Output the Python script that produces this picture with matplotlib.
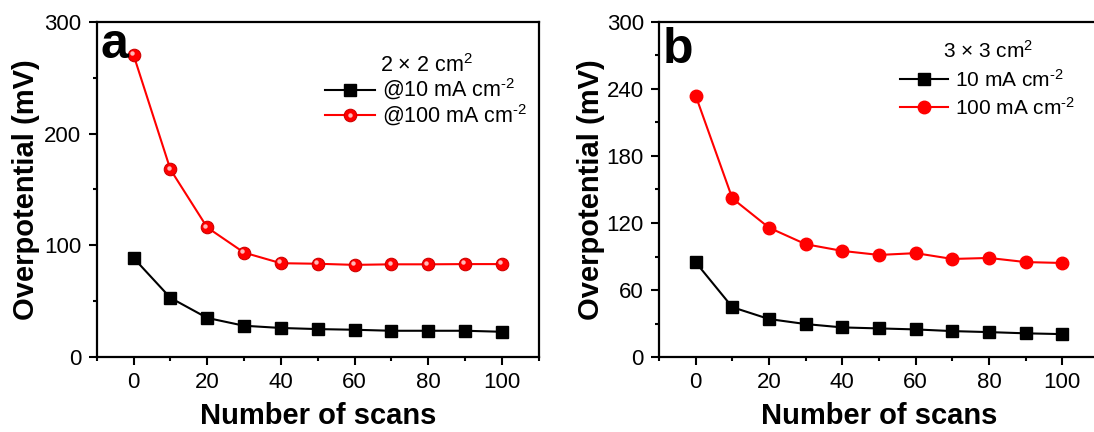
import numpy as np
import matplotlib
matplotlib.use("Agg")
import matplotlib.pyplot as plt
from matplotlib.ticker import MultipleLocator
from matplotlib.transforms import ScaledTranslation
from matplotlib.legend_handler import HandlerTuple

plt.rcParams['font.family'] = ['Liberation Sans', 'DejaVu Sans']
plt.rcParams['mathtext.fontset'] = 'custom'
plt.rcParams['mathtext.rm'] = 'Liberation Sans'
plt.rcParams['mathtext.it'] = 'Liberation Sans:italic'
plt.rcParams['mathtext.bf'] = 'Liberation Sans:bold'

# data
scans = [0, 10, 20, 30, 40, 50, 60, 70, 80, 90, 100]

a_10 = [88.7, 53, 35, 28, 26, 25, 24.4, 23.5, 23.5, 23.5, 22.6]
a_100 = [270.5, 168, 116, 93.5, 84, 83.5, 82.5, 83, 83, 83.2, 83.2]

b_10 = [84.8, 44.6, 34, 29.5, 26.5, 25.6, 24.7, 23.2, 22.3, 21.2, 20.5]
b_100 = [234, 142, 115.8, 101, 95, 91.4, 93, 87.8, 88.7, 85, 84.2]

a_title = r'2 $\times$ 2 cm$^{2}$'
a_labels = [r'@10 mA cm$^{\u2010 2}$', r'@100 mA cm$^{\u2010 2}$']
b_title = r'3 $\times$ 3 cm$^{2}$'
b_labels = [r'10 mA cm$^{\u2010 2}$', r'100 mA cm$^{\u2010 2}$']
a_labels = [s.replace('\\u2010 ', '\u2010') for s in a_labels]
b_labels = [s.replace('\\u2010 ', '\u2010') for s in b_labels]

fig = plt.figure(figsize=(10.94, 4.32), dpi=100)
ax1 = fig.add_axes([0.0884, 0.1736, 0.404, 0.7755])
ax2 = fig.add_axes([0.6024, 0.1736, 0.4022, 0.7755])


def style(ax, ymaj, ymin, ylab_x):
    ax.set_xlim(-10, 110)
    ax.set_ylim(0, 300)
    ax.xaxis.set_major_locator(MultipleLocator(20))
    ax.xaxis.set_minor_locator(MultipleLocator(10))
    ax.yaxis.set_major_locator(MultipleLocator(ymaj))
    ax.yaxis.set_minor_locator(MultipleLocator(ymin))
    ax.tick_params(which='both', direction='out', width=1.5, labelsize=16, pad=5)
    ax.tick_params(which='major', length=6)
    ax.tick_params(which='minor', length=3)
    for s in ax.spines.values():
        s.set_linewidth(1.6)
    ax.set_xlabel('Number of scans', fontsize=21, fontweight='bold', labelpad=6)
    ax.set_ylabel('Overpotential (mV)', fontsize=21, fontweight='bold')
    ax.yaxis.set_label_coords(ylab_x, 0.5)


# panel a
style(ax1, 100, 50, -0.128)
l1, = ax1.plot(scans, a_10, '-s', color='black', lw=1.5, ms=8.5)
l2, = ax1.plot(scans, a_100, '-o', color='#ff0000', lw=1.5, ms=9,
               markeredgecolor='#d00000', markeredgewidth=0.8)
off = ax1.transData + ScaledTranslation(-1.3 / 72, 1.3 / 72, fig.dpi_scale_trans)
hl, = ax1.plot(scans, a_100, 'o', color='#ffb8b8', ms=3.2, mew=0, transform=off)
hl2, = ax1.plot([], [], 'o', color='#ffb8b8', ms=3.2, mew=0)
ax1.text(0.0075, 0.893, 'a', transform=ax1.transAxes, fontsize=36,
         fontweight='bold', va='baseline', ha='left')
ax1.legend([l1, (l2, hl2)], a_labels, title=a_title, loc='upper right',
           bbox_to_anchor=(0.995, 0.93), frameon=False, fontsize=15.5,
           title_fontsize=15.5, handlelength=2.3, handletextpad=0.35,
           labelspacing=0.0, borderaxespad=0,
           handler_map={tuple: HandlerTuple(ndivide=1)})

# panel b
style(ax2, 60, 30, -0.123)
ax2.plot(scans, b_10, '-s', color='black', lw=1.5, ms=8)
ax2.plot(scans, b_100, '-o', color='#ff0000', lw=1.5, ms=9)
ax2.text(0.009, 0.878, 'b', transform=ax2.transAxes, fontsize=36,
         fontweight='bold', va='baseline', ha='left')
ax2.legend(b_labels, title=b_title, loc='upper right',
           bbox_to_anchor=(0.965, 0.97), frameon=False, fontsize=15,
           title_fontsize=15, handlelength=2.3, handletextpad=0.35,
           labelspacing=0.3, borderaxespad=0)

fig.savefig('out.png', dpi=100)
